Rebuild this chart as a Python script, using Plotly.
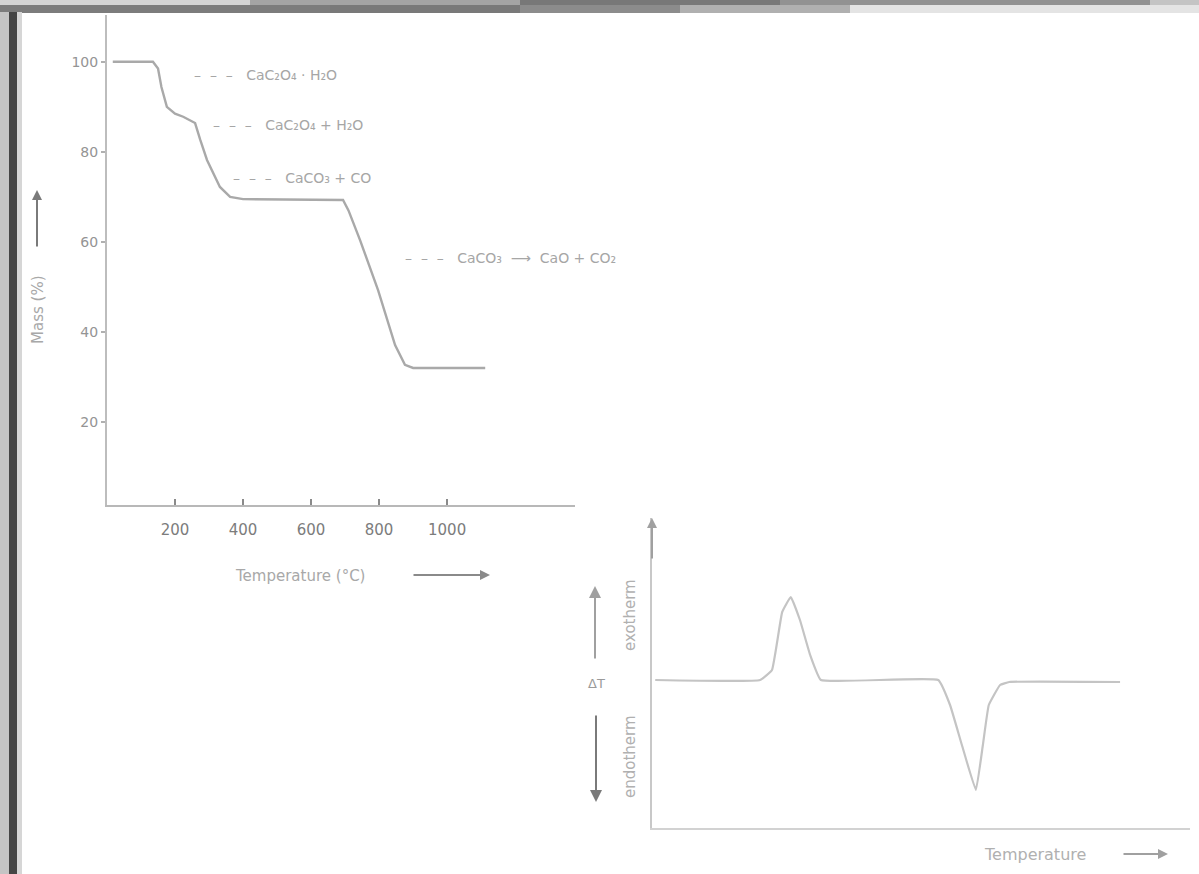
import plotly.graph_objects as go

W, H = 1199, 874

# ---------------- data ----------------
# thermogravimetric curve (mass % vs temperature °C)
tga_temp = [17, 135, 150, 160, 176, 200, 224, 259, 274, 294, 332, 362, 400, 694, 710, 744, 797, 847, 876, 900, 1112]
tga_mass = [100, 100, 98.5, 94.4, 90, 88.5, 87.8, 86.4, 82.7, 78.2, 72.2, 70, 69.5, 69.3, 67, 60.4, 49.3, 37.1, 32.7, 32, 32]
tga_xticks = [200, 400, 600, 800, 1000]
tga_xticklabels = ["200", "400", "600", "800", "1000"]
tga_yticks = [100, 80, 60, 40, 20]
tga_yticklabels = ["100", "80", "60", "40", "20"]
step_labels = ["–  –  –   CaC₂O₄ · H₂O",
               "–  –  –   CaC₂O₄ + H₂O",
               "–  –  –   CaCO₃ + CO",
               "–  –  –   CaCO₃  ⟶  CaO + CO₂"]

# differential thermal analysis curve (ΔT vs temperature, arbitrary units)
dta_temp = [6, 201, 223, 242, 258, 275, 294, 314, 532, 554, 576, 602, 615, 626, 647, 664, 870]
dta_dt = [0, 0, 0.1, 0.68, 0.83, 0.6, 0.25, 0, 0, -0.25, -0.65, -1.10, -0.65, -0.25, -0.05, -0.02, -0.02]


def px(x):
    return x / W


def py(y):
    return 1 - y / H


fig = go.Figure()

fig.add_trace(go.Scatter(x=tga_temp, y=tga_mass, mode="lines",
                         line=dict(color="#a9a9a9", width=2.4),
                         xaxis="x", yaxis="y", showlegend=False, hoverinfo="skip"))
fig.add_trace(go.Scatter(x=dta_temp, y=dta_dt, mode="lines",
                         line=dict(color="#c4c4c4", width=2.2, shape="spline", smoothing=0.3),
                         xaxis="x2", yaxis="y2", showlegend=False, hoverinfo="skip"))

fam = "DejaVu Sans, Liberation Sans, sans-serif"

fig.update_layout(
    width=W, height=H,
    margin=dict(l=0, r=0, t=0, b=0),
    paper_bgcolor="white", plot_bgcolor="white",
    font=dict(family=fam, size=11, color="#a0a0a0"),
    xaxis=dict(domain=[px(107), px(575)], range=[0, 1376],
               showgrid=False, zeroline=False, showline=True, linecolor="#b8b8b8", linewidth=2,
               ticks="inside", ticklen=6, tickwidth=2, tickcolor="#8a8a8a",
               tickvals=tga_xticks, ticktext=tga_xticklabels, ticklabelstandoff=10,
               tickfont=dict(family=fam, size=15, color="#7c7c7c"), anchor="y"),
    yaxis=dict(domain=[py(505), py(15)], range=[1.56, 110.4],
               showgrid=False, zeroline=False, showline=True, linecolor="#bdbdbd", linewidth=2,
               ticks="outside", ticklen=4, tickwidth=2, tickcolor="#b0b0b0",
               tickvals=tga_yticks, ticktext=tga_yticklabels,
               tickfont=dict(family=fam, size=14, color="#949494"), anchor="x"),
    xaxis2=dict(domain=[px(652), px(1190)], range=[0, 1000],
                showgrid=False, zeroline=False, showline=True, linecolor="#d2d2d2", linewidth=2,
                showticklabels=False, ticks="", anchor="y2"),
    yaxis2=dict(domain=[py(828), py(518)], range=[-1.48, 1.62],
                showgrid=False, zeroline=False, showline=True, linecolor="#c8c8c8", linewidth=2,
                showticklabels=False, ticks="", anchor="x2"),
)

ann = []


def text_at(x, y, txt, size=11, color="#a8a8a8", angle=0):
    ann.append(dict(x=px(x), y=py(y), xref="paper", yref="paper", text=txt, showarrow=False,
                    xanchor="center", yanchor="middle", textangle=angle,
                    font=dict(family=fam, size=size, color=color)))


def arrow(x, y, x_tail, y_tail, color="#8a8a8a", width=2, size=1.0):
    ann.append(dict(x=px(x), y=py(y), ax=x_tail - x, ay=y_tail - y, xref="paper", yref="paper",
                    text="", showarrow=True, arrowhead=2, arrowsize=size, arrowwidth=width,
                    arrowcolor=color))


# step labels on the TG curve
for (cx, cy), txt in zip([(265, 75), (288, 125), (302, 178), (510, 258)], step_labels):
    text_at(cx, cy, txt, size=14, color="#a6a6a6")

# TG axis titles
text_at(38, 310, "Mass (%)", size=15, color="#a8a8a8", angle=-90)
arrow(37, 190, 37, 248, color="#7a7a7a")
text_at(300, 576, "Temperature (°C)", size=15, color="#a8a8a8")
arrow(490, 575, 412, 575, color="#8a8a8a")

# DTA annotations
arrow(652, 518, 652, 560, color="#a0a0a0")
arrow(595, 586, 595, 660, color="#a0a0a0", size=1.2)
arrow(596, 802, 596, 714, color="#7a7a7a", size=1.2)
text_at(596, 683, "ΔT", size=13, color="#9a9a9a")
text_at(630, 615, "exotherm", size=15, color="#b0b0b0", angle=-90)
text_at(630, 757, "endotherm", size=15, color="#b0b0b0", angle=-90)
text_at(1035, 854, "Temperature", size=16, color="#b0b0b0")
arrow(1168, 854, 1122, 854, color="#a0a0a0")
fig.update_layout(annotations=ann)

# scanned-page edges
shapes = []
top_row1 = [(0, 250, "#d4d4d4"), (250, 520, "#a4a4a4"), (520, 780, "#787878"), (780, 1150, "#929292"), (1150, 1199, "#c4c4c4")]
top_row2 = [(0, 330, "#7c7c7c"), (330, 520, "#797979"), (520, 680, "#8c8c8c"), (680, 850, "#b0b0b0"), (850, 1199, "#e4e4e4")]
for x0, x1, c in top_row1:
    shapes.append(dict(type="rect", xref="paper", yref="paper", x0=px(x0), x1=px(x1), y0=py(5), y1=py(0),
                       fillcolor=c, line=dict(width=0), layer="above"))
for x0, x1, c in top_row2:
    shapes.append(dict(type="rect", xref="paper", yref="paper", x0=px(x0), x1=px(x1), y0=py(13), y1=py(5),
                       fillcolor=c, line=dict(width=0), layer="above"))
shapes.append(dict(type="rect", xref="paper", yref="paper", x0=px(9), x1=px(17), y0=0, y1=py(12),
                   fillcolor="#454545", line=dict(width=0), layer="above"))
shapes.append(dict(type="rect", xref="paper", yref="paper", x0=px(17), x1=px(22), y0=0, y1=py(12),
                   fillcolor="#d6d6d6", line=dict(width=0), layer="above"))
shapes.append(dict(type="rect", xref="paper", yref="paper", x0=0, x1=px(9), y0=0, y1=py(12),
                   fillcolor="#c4c4c4", line=dict(width=0), layer="above"))
fig.update_layout(shapes=shapes)

fig.write_html("out.html", config={"displayModeBar": False},
               post_script="document.body.style.margin='0';document.body.style.overflow='hidden';")
